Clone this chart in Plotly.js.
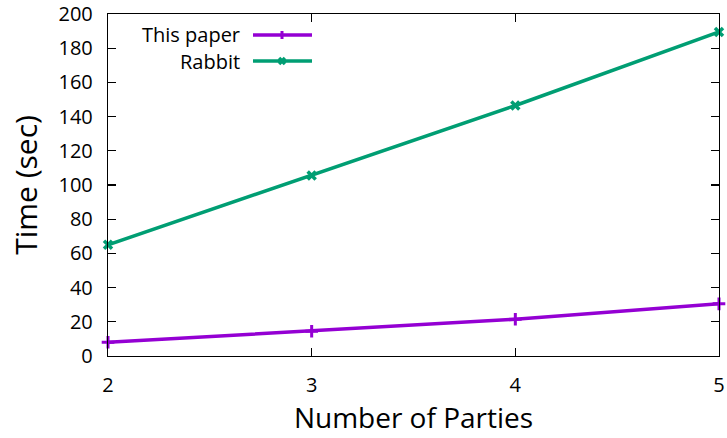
<!DOCTYPE html>
<html>
<head>
<meta charset="utf-8">
<script src="https://cdn.plot.ly/plotly-3.0.1.min.js"></script>
<style>html,body{margin:0;padding:0;background:#fff;}#chart{width:727px;height:438px;}</style>
</head>
<body>
<div id="chart"></div>
<script>
const parties = [2, 3, 4, 5];
const thisPaper = [8, 14.5, 21.5, 30.5];
const rabbit = [65, 105.5, 146.5, 189.5];
const seriesNames = ["This paper", "Rabbit"];
const xTicks = [2, 3, 4, 5];
const yTicks = [0, 20, 40, 60, 80, 100, 120, 140, 160, 180, 200];

const purple = "#9400D3", green = "#009E73";
const W = 727, H = 438, mL = 108, mR = 8, mT = 14, mB = 82;
const pw = W - mL - mR, ph = H - mT - mB;
const px = x => (x - mL) / pw;
const py = y => (H - mB - y) / ph;

const font = "Open Sans, Noto Sans, DejaVu Sans, sans-serif";

const traces = [
  {x: parties, y: thisPaper, name: seriesNames[0], mode: "lines+markers", cliponaxis: false,
   line: {color: purple, width: 3.5},
   marker: {symbol: "cross-thin", size: 9, color: purple, line: {color: purple, width: 3}}},
  {x: parties, y: rabbit, name: seriesNames[1], mode: "lines+markers", cliponaxis: false,
   line: {color: green, width: 3.5},
   marker: {symbol: "x-thin", size: 8, color: green, line: {color: green, width: 3.5}}}
];

// custom gnuplot-style legend (text then sample)
const legY = [35, 61];
const colors = [purple, green];
const shapes = [];
const annotations = [];
seriesNames.forEach((n, i) => {
  annotations.push({xref: "paper", yref: "paper", x: px(242), y: py(legY[i]), xanchor: "right", yanchor: "middle",
    text: n, showarrow: false, font: {family: font, size: 20, color: "#000"}});
  shapes.push({type: "line", xref: "paper", yref: "paper", x0: px(253), x1: px(312), y0: py(legY[i]), y1: py(legY[i]),
    line: {color: colors[i], width: 3.5}});
});
// legend sample markers
shapes.push({type: "line", xref: "paper", yref: "paper", x0: px(282), x1: px(282), y0: py(31), y1: py(39), line: {color: purple, width: 3}});
shapes.push({type: "line", xref: "paper", yref: "paper", x0: px(279), x1: px(285), y0: py(58), y1: py(64), line: {color: green, width: 3.5}});
shapes.push({type: "line", xref: "paper", yref: "paper", x0: px(279), x1: px(285), y0: py(64), y1: py(58), line: {color: green, width: 3.5}});

const axisCommon = {
  showline: true, linecolor: "#000", linewidth: 1.2, mirror: "allticks",
  ticks: "inside", ticklen: 8, tickwidth: 1.2, tickcolor: "#000",
  showgrid: false, zeroline: false,
  tickfont: {family: font, size: 20, color: "#000"}
};

const layout = {
  width: W, height: H,
  margin: {l: mL, r: mR, t: mT, b: mB, pad: 0},
  paper_bgcolor: "#fff", plot_bgcolor: "#fff",
  showlegend: false,
  xaxis: Object.assign({}, axisCommon, {range: [2, 5], tickvals: xTicks, ticktext: xTicks.map(String), ticklabelstandoff: 11,
    title: {text: "Number of Parties", font: {family: font, size: 28, color: "#000"}, standoff: 10}}),
  yaxis: Object.assign({}, axisCommon, {range: [0, 200], tickvals: yTicks, ticktext: yTicks.map(String), ticklabelstandoff: 10,
    title: {text: "Time (sec)", font: {family: font, size: 30, color: "#000"}, standoff: 12}}),
  shapes: shapes,
  annotations: annotations
};

Plotly.newPlot("chart", traces, layout, {displayModeBar: false, staticPlot: true});
</script>
</body>
</html>
